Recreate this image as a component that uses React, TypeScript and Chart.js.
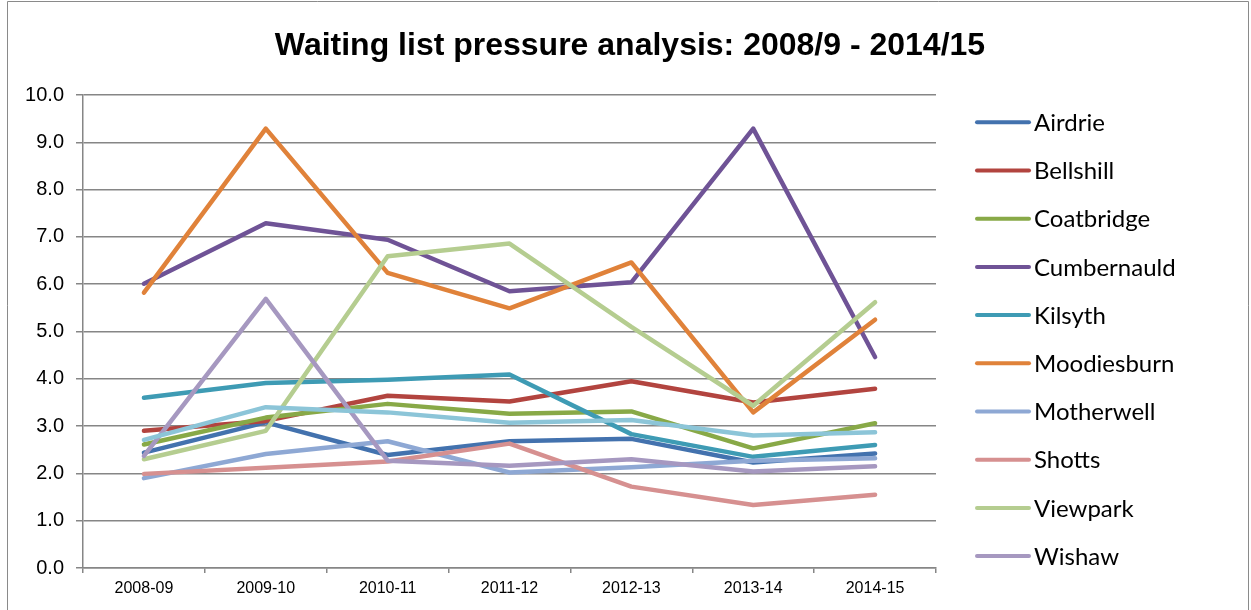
import React, { useEffect, useRef } from "react";
import { Chart, registerables } from "chart.js";

Chart.register(...registerables);

const categories = ["2008-09", "2009-10", "2010-11", "2011-12", "2012-13", "2013-14", "2014-15"];
const yTickLabels = ["0.0", "1.0", "2.0", "3.0", "4.0", "5.0", "6.0", "7.0", "8.0", "9.0", "10.0"];
const chartTitle = "Waiting list pressure analysis: 2008/9 - 2014/15";

const airdrie = [2.44, 3.08, 2.39, 2.68, 2.73, 2.23, 2.42];
const bellshill = [2.9, 3.11, 3.64, 3.52, 3.95, 3.5, 3.79];
const coatbridge = [2.61, 3.18, 3.47, 3.26, 3.31, 2.53, 3.06];
const cumbernauld = [6.01, 7.29, 6.94, 5.85, 6.04, 9.29, 4.46];
const kilsyth = [3.6, 3.91, 3.98, 4.09, 2.83, 2.35, 2.6];
const moodiesburn = [5.82, 9.29, 6.24, 5.49, 6.46, 3.29, 5.25];
const motherwell = [1.9, 2.41, 2.68, 2.02, 2.13, 2.27, 2.32];
const shotts = [1.99, 2.12, 2.25, 2.63, 1.72, 1.33, 1.55];
const viewpark = [2.3, 2.9, 6.59, 6.86, 5.1, 3.43, 5.62];
const wishaw = [2.37, 5.69, 2.27, 2.16, 2.3, 2.04, 2.15];
const northLanarkshire = [2.71, 3.4, 3.29, 3.07, 3.13, 2.8, 2.87];

const seriesNames = [
  "Airdrie", "Bellshill", "Coatbridge", "Cumbernauld", "Kilsyth", "Moodiesburn",
  "Motherwell", "Shotts", "Viewpark", "Wishaw", "North Lanarkshire",
];
const seriesValues = [
  airdrie, bellshill, coatbridge, cumbernauld, kilsyth, moodiesburn,
  motherwell, shotts, viewpark, wishaw, northLanarkshire,
];
const seriesColors = [
  "#4372AE", "#B2443F", "#88A947", "#6F5396", "#3E9BB4", "#E0823A",
  "#8EA8D4", "#D69090", "#B5CD90", "#A698C0", "#8CC5D8",
];
const legendCount = 10;

export default function App() {
  const canvasRef = useRef<HTMLCanvasElement | null>(null);

  useEffect(() => {
    document.body.style.margin = "0";
    const canvas = canvasRef.current;
    if (!canvas) return;

    const frame = {
      id: "frame",
      beforeDraw(chart: any) {
        const ctx = chart.ctx;
        ctx.save();
        ctx.fillStyle = "#ffffff";
        ctx.fillRect(0, 0, chart.width, chart.height);
        ctx.strokeStyle = "#8a8a8a";
        ctx.lineWidth = 1;
        ctx.beginPath();
        ctx.moveTo(7.5, chart.height);
        ctx.lineTo(7.5, 1.5);
        ctx.lineTo(chart.width - 2.5, 1.5);
        ctx.lineTo(chart.width - 2.5, chart.height);
        ctx.stroke();
        ctx.fillStyle = "#000000";
        ctx.font = "bold 32px 'Liberation Sans', Arial, sans-serif";
        ctx.textAlign = "center";
        ctx.textBaseline = "middle";
        ctx.fillText(chartTitle, 630, 46);
        ctx.restore();
      },
      afterDraw(chart: any) {
        const ctx = chart.ctx;
        ctx.save();
        for (let i = 0; i < legendCount; i++) {
          const ds = chart.data.datasets[i];
          const y = 122.3 + i * 48.2;
          ctx.strokeStyle = ds.borderColor;
          ctx.lineWidth = 4;
          ctx.lineCap = "round";
          ctx.beginPath();
          ctx.moveTo(977, y);
          ctx.lineTo(1029, y);
          ctx.stroke();
          ctx.fillStyle = "#000000";
          ctx.font = "24px Lato";
          ctx.textBaseline = "middle";
          ctx.textAlign = "left";
          ctx.fillText(ds.label, 1034, y + 1);
        }
        ctx.restore();
      },
    };

    const n = seriesNames.length;
    const chart = new Chart(canvas, {
      type: "line",
      data: {
        labels: categories,
        datasets: seriesNames.map((name, i) => ({
          label: name,
          data: seriesValues[i],
          borderColor: seriesColors[i],
          backgroundColor: seriesColors[i],
          borderWidth: 4.5,
          borderCapStyle: "round",
          borderJoinStyle: "round",
          pointRadius: 0,
          pointHoverRadius: 0,
          tension: 0,
          fill: false,
          order: n - i,
        })),
      },
      options: {
        responsive: false,
        animation: false,
        events: [],
        layout: { padding: { left: 0, right: 315, top: 95, bottom: 0 } },
        plugins: {
          legend: { display: false },
          tooltip: { enabled: false },
          title: { display: false },
        },
        scales: {
          x: {
            type: "category",
            offset: true,
            afterFit(scale: any) {
              scale.height = 42;
            },
            grid: {
              offset: true,
              drawOnChartArea: false,
              drawTicks: true,
              tickLength: 5,
              color: "#868686",
              lineWidth: 1.5,
            },
            border: { display: true, color: "#868686", width: 1.5 },
            ticks: {
              color: "#000000",
              padding: 6,
              maxRotation: 0,
              font: { family: "'Liberation Sans', Arial, sans-serif", size: 16 },
            },
          },
          y: {
            min: 0,
            max: 10,
            afterFit(scale: any) {
              scale.width = 83;
            },
            afterBuildTicks(scale: any) {
              scale.ticks = yTickLabels.map((t) => ({ value: parseFloat(t) }));
            },
            grid: {
              drawOnChartArea: true,
              drawTicks: true,
              tickLength: 7,
              color: "#868686",
              lineWidth: 1.5,
            },
            border: { display: true, color: "#868686", width: 1.5 },
            ticks: {
              color: "#000000",
              padding: 12,
              callback: (v: any) => Number(v).toFixed(1),
              font: { family: "'Liberation Sans', Arial, sans-serif", size: 20 },
            },
          },
        },
      },
      plugins: [frame],
    } as any);

    return () => {
      chart.destroy();
    };
  }, []);

  return (
    <div style={{ width: 1251, height: 610, position: "relative" }}>
      <canvas ref={canvasRef} width={1251} height={610} style={{ display: "block" }} />
    </div>
  );
}
